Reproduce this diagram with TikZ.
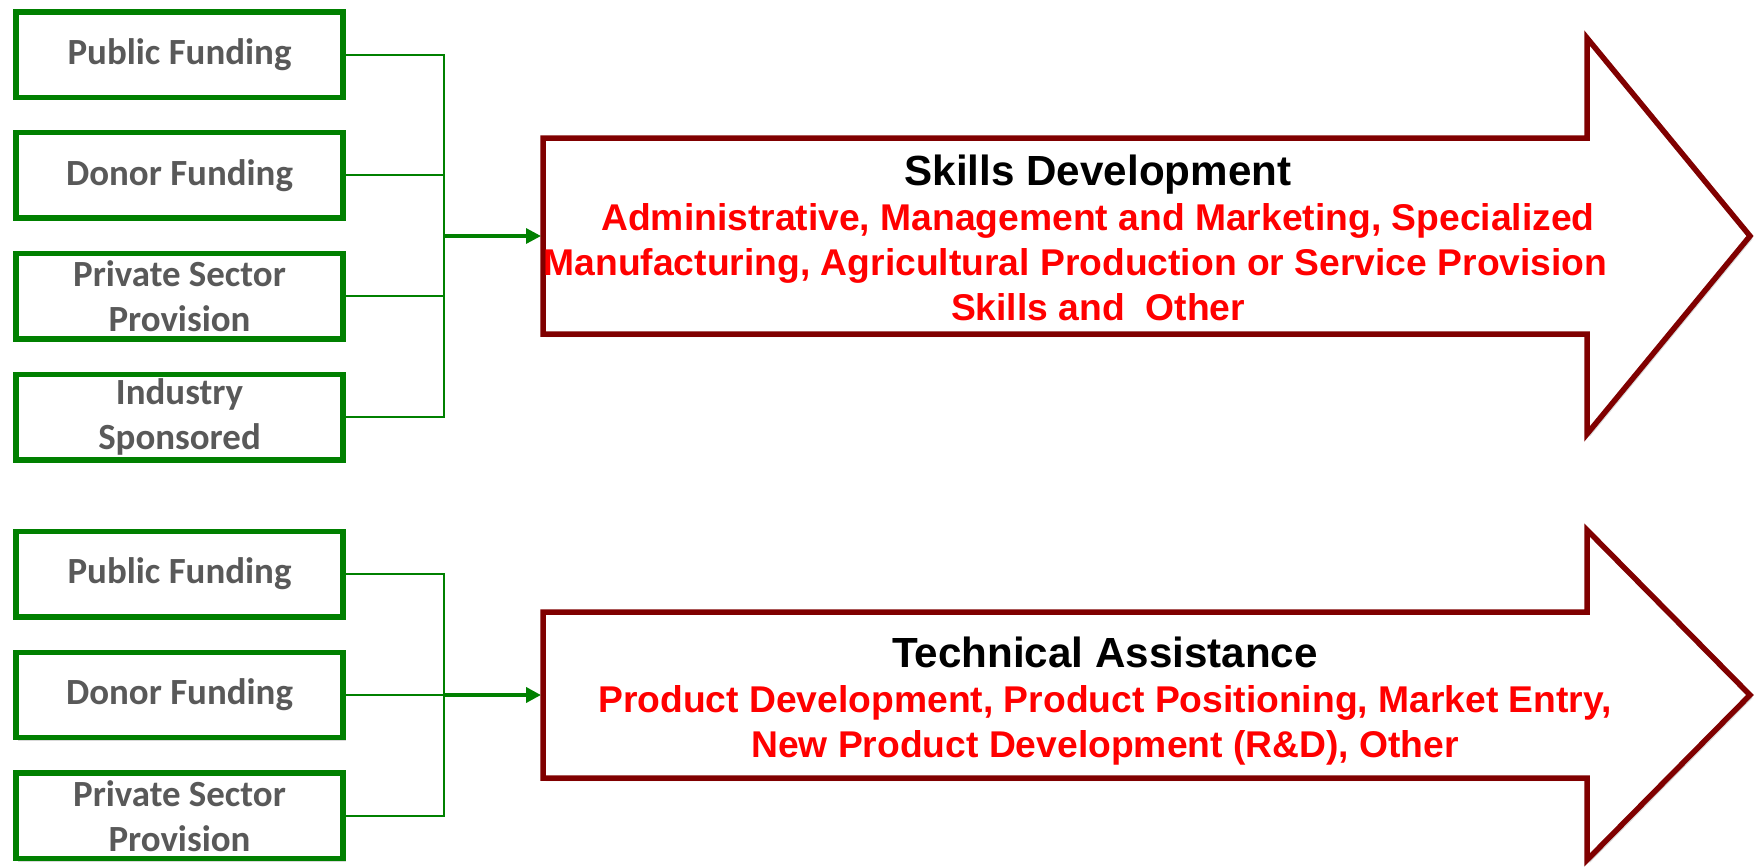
\documentclass[tikz,border=0pt]{standalone}
\usepackage{fontspec}
\usepackage{tikz}
\usetikzlibrary{positioning, arrows.meta, shadows}
\newfontfamily\boxfont{Carlito}
\newfontfamily\arrowfont{Liberation Sans}
\definecolor{boxgreen}{HTML}{008000}
\definecolor{boxgrey}{HTML}{595959}
\definecolor{arrowred}{HTML}{800000}
\definecolor{textred}{HTML}{FF0000}

\begin{document}
\begin{tikzpicture}[x=0.02cm, y=-0.02cm, node distance=0.6cm,
  source/.style={draw=boxgreen, line width=0.11cm, fill=white,
    minimum width=6.55cm, minimum height=1.71cm, inner sep=0pt,
    align=center, text=boxgrey,
    font=\boxfont\bfseries\fontsize{21}{25.6}\selectfont,
    drop shadow={shadow xshift=0.05cm, shadow yshift=-0.06cm, opacity=0.3}},
  bigarrow/.style={draw=arrowred, line width=0.11cm, fill=white, line join=miter,
    drop shadow={shadow xshift=0.05cm, shadow yshift=-0.06cm, opacity=0.3}},
  link/.style={draw=boxgreen, line width=0.04cm},
  feed/.style={link, line width=0.065cm, -{Triangle[length=0.3cm, width=0.3cm]}},
  arrowtext/.style={anchor=north, align=center, inner sep=0pt, text=textred,
    font=\arrowfont\bfseries\fontsize{21.2}{25.6}\selectfont}]
\useasboundingbox (0,0) rectangle (1758,867);

% the two big arrows
\draw[bigarrow] (543,138) -- (1587,138) -- (1587,38) -- (1750,236)
  -- (1587,434) -- (1587,334) -- (543,334) -- cycle;
\coordinate (sdtail) at (541,236);
\draw[bigarrow] (543,612) -- (1587,612) -- (1587,530) -- (1750,695)
  -- (1587,860) -- (1587,778) -- (543,778) -- cycle;
\coordinate (tatail) at (541,695);

\node[arrowtext] (sdtext) at (1098,155) {{\color{black}\fontsize{24}{25.6}\selectfont Skills Development}\\
  Administrative, Management and Marketing, Specialized\\
  Manufacturing, Agricultural Production or Service Provision\hbox to 0.9cm{}\\
  Skills and \ Other};
\node[arrowtext] (tatext) at (1105,637) {{\color{black}\fontsize{24}{25.6}\selectfont Technical Assistance}\\
  Product Development, Product Positioning, Market Entry,\\
  New Product Development (R\&D), Other};

% funding sources
\node[source] (pub1) at (179.5,54.5) {Public Funding};
\node[source, below=of pub1] (don1) {Donor Funding};
\node[source, below=of don1] (priv1) {Private Sector\\Provision};
\node[source, below=of priv1] (ind1) {Industry\\Sponsored};

\node[source] (pub2) at (179.5,574) {Public Funding};
\node[source, below=of pub2] (don2) {Donor Funding};
\node[source, below=of don2] (priv2) {Private Sector\\Provision};

\coordinate (join1) at (444,236);
\coordinate (join2) at (444,695);
\foreach \src in {pub1, don1, priv1, ind1}
  \draw[link] (\src.east) -| (join1);
\foreach \src in {pub2, don2, priv2}
  \draw[link] (\src.east) -| (join2);
\draw[feed] (join1) -- (sdtail);
\draw[feed, line width=0.09cm] (join2) -- (tatail);
%
\end{tikzpicture}
\end{document}
